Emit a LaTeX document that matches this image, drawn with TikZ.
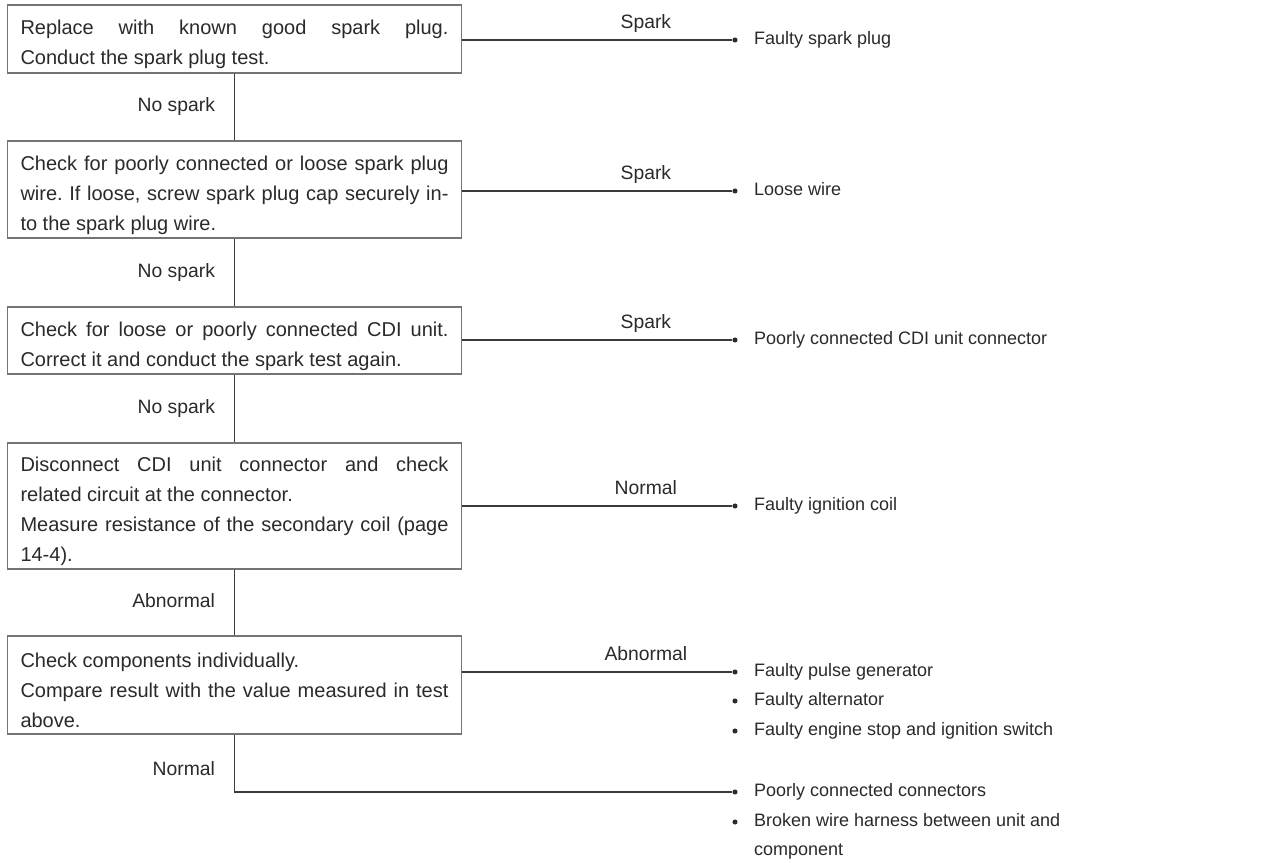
\documentclass[tikz,border=0pt]{standalone}
\usepackage{fontspec}
\setmainfont{Liberation Sans}
\usetikzlibrary{positioning}
\definecolor{ink}{HTML}{2A2A2A}
\definecolor{rule}{HTML}{3A3A3A}
\definecolor{frame}{HTML}{747474}
\tolerance=10000
\hbadness=10000
\frenchspacing
\newcommand\lift{\rule{0pt}{19pt}}

\begin{document}
\begin{tikzpicture}[x=0.75pt,y=0.75pt,
    stepbox/.style={draw=frame, line width=0.9pt, text=ink, text width=321pt, align=justify,
        inner xsep=10pt, inner ysep=0pt, font=\fontsize{15}{22.5}\selectfont},
    wire/.style={draw=rule, line width=1.2pt},
    lbl/.style={text=ink, font=\fontsize{14.5}{16}\selectfont, inner sep=0pt, text height=10.5pt, text depth=3pt},
    dot/.style={circle, fill=ink, inner sep=0pt, minimum size=3.8pt},
    cause/.style={text=ink, font=\fontsize{13.5}{16}\selectfont, anchor=west, inner sep=0pt,
        text height=10pt, text depth=3pt}]
    \useasboundingbox (0,0) rectangle (1281,-863);
    \fill [white] (0,0) rectangle (1281,-863);

    \node [stepbox, minimum height=51pt] (plug) at (234.5,-39)
        {\lift Replace with known good spark plug.\linebreak Conduct the spark plug test.};
    \node [stepbox, minimum height=72.75pt] (cap) at (234.5,-189.5)
        {\lift Check for poorly connected or loose spark plug\linebreak wire. If loose, screw spark plug cap securely in-\linebreak to the spark plug wire.};
    \node [stepbox, minimum height=50.25pt] (cdi) at (234.5,-340.5)
        {\lift Check for loose or poorly connected CDI unit.\linebreak Correct it and conduct the spark test again.};
    \node [stepbox, minimum height=94.5pt] (coil) at (234.5,-506)
        {\lift Disconnect CDI unit connector and check\linebreak related circuit at the connector.\\ Measure resistance of the secondary coil (page\linebreak 14-4).};
    \node [stepbox, minimum height=73.5pt] (parts) at (234.5,-685)
        {\lift Check components individually.\\ Compare result with the value measured in test\linebreak above.};

    \node [dot] (d1) at (735,-40) {};
    \node [cause, right=12pt of d1] (t1) {Faulty spark plug};
    \node [dot] (d2) at (735,-191) {};
    \node [cause, right=12pt of d2] (t2) {Loose wire};
    \node [dot] (d3) at (735,-340) {};
    \node [cause, right=12pt of d3] (t3) {Poorly connected CDI unit connector};
    \node [dot] (d4) at (735,-506) {};
    \node [cause, right=12pt of d4] (t4) {Faulty ignition coil};
    \node [dot] (d5a) at (735,-672) {};
    \node [cause, right=12pt of d5a] (t5a) {Faulty pulse generator};
    \node [dot] (d5b) at (735,-701) {};
    \node [cause, right=12pt of d5b] (t5b) {Faulty alternator};
    \node [dot] (d5c) at (735,-731) {};
    \node [cause, right=12pt of d5c] (t5c) {Faulty engine stop and ignition switch};
    \node [dot] (d6a) at (735,-792) {};
    \node [cause, right=12pt of d6a] (t6a) {Poorly connected connectors};
    \node [dot] (d6b) at (735,-822) {};
    \node [cause, right=12pt of d6b] (t6b) {Broken wire harness between unit and};
    \node [cause] (t6c) at (t6b.west |- 0,-851) {component};

    \draw [wire] (plug) -- node [lbl, midway, left=14pt] {No spark} (cap);
    \draw [wire] (cap) -- node [lbl, midway, left=14pt] {No spark} (cdi);
    \draw [wire] (cdi) -- node [lbl, midway, left=14pt] {No spark} (coil);
    \draw [wire] (coil) -- node [lbl, midway, left=14pt] {Abnormal} (parts);
    \draw [wire] (parts.south) -- node [lbl, pos=0.62, left=14pt] {Normal} (parts.south |- d6a) -- (d6a.west);

    \draw [wire] (plug.east |- d1) -- node [lbl, pos=0.68, above=5pt] {Spark} (d1.west);
    \draw [wire] (cap.east |- d2) -- node [lbl, pos=0.68, above=5pt] {Spark} (d2.west);
    \draw [wire] (cdi.east |- d3) -- node [lbl, pos=0.68, above=5pt] {Spark} (d3.west);
    \draw [wire] (coil.east |- d4) -- node [lbl, pos=0.68, above=5pt] {Normal} (d4.west);
    \draw [wire] (parts.east |- d5a) -- node [lbl, pos=0.68, above=5pt] {Abnormal} (d5a.west);
\end{tikzpicture}
\end{document}
